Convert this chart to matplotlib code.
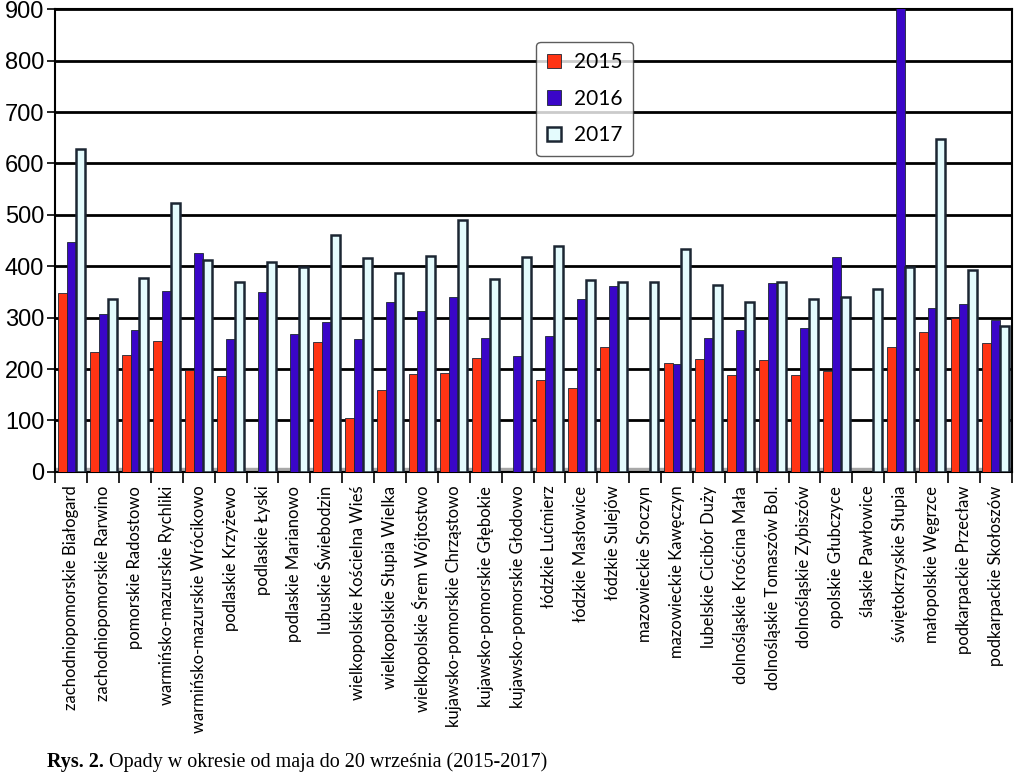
import numpy as np
import matplotlib
matplotlib.use("Agg")
import matplotlib.pyplot as plt

# data
stations = [
    "zachodniopomorskie Białogard", "zachodniopomorskie Rarwino", "pomorskie Radostowo",
    "warmińsko-mazurskie Rychliki", "warmińsko-mazurskie Wrócikowo", "podlaskie Krzyżewo",
    "podlaskie Łyski", "podlaskie Marianowo", "lubuskie Świebodzin",
    "wielkopolskie Kościelna Wieś", "wielkopolskie Słupia Wielka", "wielkopolskie Śrem Wójtostwo",
    "kujawsko-pomorskie Chrząstowo", "kujawsko-pomorskie Głębokie", "kujawsko-pomorskie Głodowo",
    "łódzkie Lućmierz", "łódzkie Masłowice", "łódzkie Sulejów",
    "mazowieckie Sroczyn", "mazowieckie Kawęczyn", "lubelskie Cicibór Duży",
    "dolnośląskie Krościna Mała", "dolnośląskie Tomaszów Bol.", "dolnośląskie Zybiszów",
    "opolskie Głubczyce", "śląskie Pawłowice", "świętokrzyskie Słupia",
    "małopolskie Węgrzce", "podkarpackie Przecław", "podkarpackie Skołoszów",
]
rain_2015 = [348, 233, 228, 255, 198, 186, 0, 0, 252, 105, 160, 191, 193, 222, 0,
             178, 163, 243, 0, 212, 219, 189, 217, 188, 197, 0, 243, 273, 300, 250]
rain_2016 = [447, 308, 276, 352, 425, 258, 350, 269, 292, 258, 330, 313, 340, 260, 225,
             264, 336, 362, 0, 210, 260, 276, 368, 279, 418, 0, 905, 319, 326, 296]
rain_2017 = [628, 337, 378, 524, 413, 370, 409, 399, 461, 417, 387, 420, 490, 375, 418,
             440, 373, 369, 370, 433, 363, 330, 369, 337, 340, 355, 399, 648, 393, 283]
years = ["2015", "2016", "2017"]

colors = ["#ff3414", "#3a06c8", "#e4fbfd"]
edge = "#1c2633"

fig = plt.figure(figsize=(10.24, 7.76), dpi=100)
ax = fig.add_axes([0.054, 0.392, 0.934, 0.596])

x = np.arange(len(stations))
w = 0.28
series = [rain_2015, rain_2016, rain_2017]
for i, (vals, col, lab) in enumerate(zip(series, colors, years)):
    ax.bar(x + (i - 1) * w, vals, width=w, color=col, edgecolor=edge,
           linewidth=1.8 if i == 2 else 0.6, label=lab, zorder=3)

# grey floor strip
ax.axhspan(0, 8, color="#a8a8a8", zorder=2)

ax.set_xlim(-0.5, len(stations) - 0.5)
ax.set_ylim(0, 900)
ax.set_yticks(np.arange(0, 901, 100))
ax.yaxis.grid(True, color="black", linewidth=2, zorder=1)
ax.set_axisbelow(True)

ax.set_xticks(x)
ax.set_xticklabels(stations, rotation=90, fontsize=12, family="Lato")
ax.tick_params(axis="x", which="major", length=0, pad=10)
ax.set_xticks(np.arange(-0.5, len(stations), 1), minor=True)
ax.tick_params(axis="x", which="minor", length=8, width=1.2, direction="out")
ax.tick_params(axis="y", labelsize=17, length=6, width=1.2, pad=2)
for lbl in ax.get_yticklabels():
    lbl.set_family("Liberation Sans")
for s in ax.spines.values():
    s.set_linewidth(1.5)

leg = ax.legend(loc="upper left", bbox_to_anchor=(0.503, 0.93),
                frameon=True, fancybox=True, edgecolor="#333333",
                handlelength=0.7, handleheight=0.7, labelspacing=0.8,
                borderpad=0.5, handletextpad=0.6, borderaxespad=0,
                prop={"family": "Lato", "size": 15})
leg.get_frame().set_linewidth(1.0)

t1 = fig.text(0.046, 0.012, "Rys. 2.", fontsize=14.5, fontweight="bold",
              family="Liberation Serif")
ax.annotate(" Opady w okresie od maja do 20 września (2015-2017)", xy=(1, 0),
            xycoords=t1, fontsize=14.5, family="Liberation Serif",
            va="bottom", annotation_clip=False)

fig.savefig("out.png", dpi=100)
